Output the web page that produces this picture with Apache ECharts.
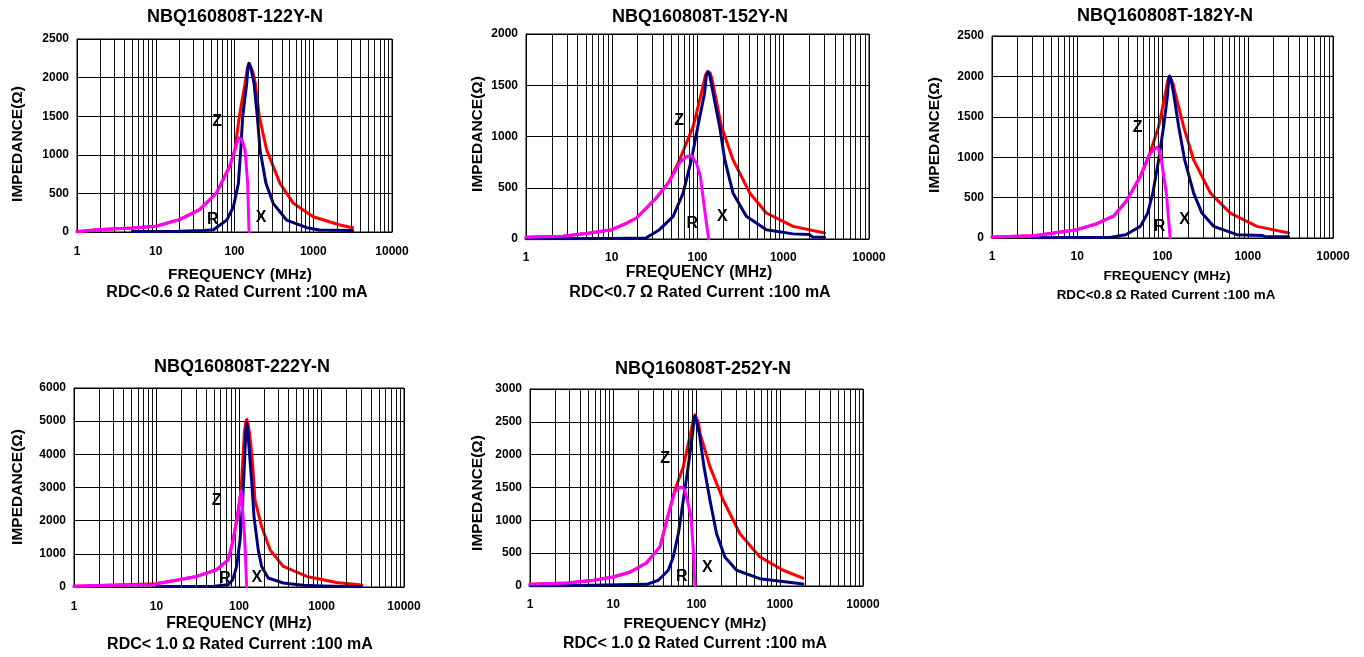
<!DOCTYPE html>
<html>
<head>
<meta charset="utf-8">
<script src="https://cdn.jsdelivr.net/npm/echarts@6/dist/echarts.min.js"></script>
<style>
html,body{margin:0;padding:0;background:#fff;}
#c{width:1364px;height:657px;}
</style>
</head>
<body>
<div id="c"></div>
<script>
// ---------------- DATA ----------------
const titles = ['NBQ160808T-122Y-N','NBQ160808T-152Y-N','NBQ160808T-182Y-N','NBQ160808T-222Y-N','NBQ160808T-252Y-N'];
const notes = ['RDC<0.6 Ω Rated Current :100 mA','RDC<0.7 Ω Rated Current :100 mA','RDC<0.8 Ω Rated Current :100 mA','RDC< 1.0 Ω Rated Current :100 mA','RDC< 1.0 Ω Rated Current :100 mA'];
const xName = 'FREQUENCY (MHz)';
const yName = 'IMPEDANCE(Ω)';
const yMaxes = [2500, 2000, 2500, 6000, 3000];
const ySteps = [500, 500, 500, 1000, 500];
const freqMin = 1, freqMax = 10000;

// [frequency MHz, impedance Ω]
const z122 = [[1,5],[1.8,30],[5,52],[10,75],[20,160],[36,290],[59,505],[87,855],[101,1062],[115,1493],[136,1925],[146,2120],[153,2185],[160,2170],[170,2080],[184,1925],[207,1493],[256,1062],[378,630],[559,371],[1000,198],[2180,91],[3160,56]];
const x122 = [[5,8],[20,10],[40,20],[54,30],[80,155],[97,328],[112,630],[120,1062],[127,1493],[143,1925],[148,2140],[153,2185],[160,2140],[177,1925],[195,1493],[211,1062],[251,630],[310,371],[458,155],[830,56],[1200,25],[3160,20]];
const r122 = [[1,0],[1.76,30],[5.1,52],[10,73],[20,160],[36,290],[59,504],[87,850],[101,1062],[112,1220],[117,1243],[124,1200],[136,1062],[147,630],[153,0]];

const z152 = [[1,16],[2.7,26],[5.5,58],[10,91],[15,156],[19.4,205],[33,400],[47,565],[62,774],[89,1099],[111,1424],[124,1600],[132,1635],[140,1620],[148,1560],[159,1424],[190,1099],[259,774],[407,449],[635,254],[1300,123],[3040,58]];
const x152 = [[1,3],[10,5],[25,10],[36,91],[52,221],[68,449],[85,774],[101,1099],[121,1424],[127,1600],[132,1630],[138,1610],[152,1424],[181,1099],[208,774],[259,449],[371,221],[635,91],[1300,50],[2000,45],[2200,20],[3040,18]];
const r152 = [[1,16],[2.7,26],[5.5,58],[10,91],[15,156],[19.4,205],[33,400],[47,560],[62,745],[75,805],[85,815],[97,740],[108,611],[121,286],[135,0]];

const z182 = [[1,12],[3.1,29],[5.3,62],[9.9,103],[17,177],[27,275],[38,465],[55,765],[71,1049],[90,1377],[108,1789],[116,1960],[121,2003],[127,1980],[134,1900],[141,1789],[177,1377],[232,966],[365,555],[624,308],[1280,144],[3020,62]];
const x182 = [[3,3],[25,10],[37,41],[55,144],[67,308],[77,555],[90,966],[103,1377],[115,1789],[118,1960],[121,2000],[126,1960],[135,1789],[155,1377],[182,966],[232,555],[290,308],[398,144],[748,41],[1500,30],[1600,15],[3020,15]];
const r182 = [[1,12],[3.1,29],[5.3,62],[9.9,103],[17,177],[27,275],[38,460],[55,760],[71,1040],[80,1100],[86,1123],[91,1090],[97,966],[111,555],[123,0]];

const z222 = [[1,20],[3.3,60],[10,100],[16,190],[30.7,319],[53.5,520],[74,821],[85,1422],[95.5,2122],[106,2925],[110,3625],[116,4629],[121,4980],[124,5050],[128,4950],[133,4700],[139,4300],[147,3625],[156,2624],[188,1822],[238,1121],[344,619],[662,319],[1520,138],[3070,60]];
const x222 = [[10,15],[50,20],[74,70],[84,220],[93.5,619],[103,1422],[111,2624],[116,3625],[121,4700],[124,4950],[128,4700],[133,4127],[143,3124],[152,2122],[171,1121],[188,619],[226,270],[344,120],[600,50],[1000,30],[3070,10]];
const r222 = [[1,20],[3.3,60],[9.5,70],[10.5,110],[16,190],[30.7,319],[53.5,520],[74,821],[85,1422],[95.5,2122],[106,2900],[110,2940],[117,1500],[124,0]];

const z252 = [[1,25],[2.8,46],[5.8,87],[10,137],[16,214],[25,350],[36.5,600],[43.9,1000],[55,1462],[69.5,1818],[85,2328],[91,2520],[96,2607],[101,2580],[106,2480],[110,2328],[145,1818],[209,1309],[331,800],[576,443],[1097,240],[1900,120]];
const x252 = [[1,3],[2.5,5],[25.3,25],[34.8,87],[45.8,240],[52.6,443],[60.6,800],[69.5,1309],[79.5,1818],[90,2328],[93,2530],[96,2590],[100,2560],[108,2328],[123,1818],[145,1309],[174,800],[219,443],[303,240],[576,112],[1445,50],[1900,30]];
const r252 = [[1,25],[2.8,46],[5.8,87],[10,137],[16,214],[25,350],[36.5,600],[43.9,1000],[55,1440],[62,1495],[67.5,1505],[72,1460],[78,1300],[85.8,1054],[91.6,545],[96,0]];

// curve name labels: [text, frequency, impedance]
const lbl122 = [['Z',60,1425],['R',53,155],['X',217,181]];
const lbl152 = [['Z',61,1157],['R',87,149],['X',195,215]];
const lbl182 = [['Z',51,1370],['R',92.5,136],['X',182,226]];
const lbl222 = [['Z',53.7,2603],['R',67.7,240],['X',164,270]];
const lbl252 = [['Z',41.9,1946],['R',66.4,137],['X',134.6,281]];

const zSets = [z122, z152, z182, z222, z252];
const xSets = [x122, x152, x182, x222, x252];
const rSets = [r122, r152, r182, r222, r252];
const lblSets = [lbl122, lbl152, lbl182, lbl222, lbl252];

// ---------------- LAYOUT ----------------
const FONT = '"Liberation Sans", Arial, sans-serif';
const layout = [
  {grid:{left:77,top:39,width:315,height:193}, title:[235,17], xn:[240,275], note:[237,293], yn:[18,144], xnSize:15.5, noteSize:16, xMargin:14},
  {grid:{left:526,top:34,width:343,height:205}, title:[700,17], xn:[699,273], note:[700,293], yn:[478,134], xnSize:15.8, noteSize:16, xMargin:13},
  {grid:{left:992,top:36,width:341,height:202}, title:[1165,16], xn:[1167,276], note:[1166,295], yn:[935,135], xnSize:13.7, noteSize:13.4, xMargin:13},
  {grid:{left:74,top:388,width:330,height:199}, title:[242,367], xn:[239,624], note:[240,645], yn:[18,487], xnSize:15.7, noteSize:16, xMargin:14},
  {grid:{left:530,top:389,width:333,height:197}, title:[703,369], xn:[695,624], note:[695,644], yn:[478,493], xnSize:15.4, noteSize:15.9, xMargin:13}
];

// minor log grid positions (2..9 per decade)
const minorLines = [];
for (let d = 1; d < freqMax; d *= 10) for (let k = 2; k <= 9; k++) minorLines.push(d * k);

const grids = [], xAxes = [], yAxes = [], series = [], graphics = [];
layout.forEach((L, i) => {
  grids.push(Object.assign({show:true, borderColor:'#000', borderWidth:1, backgroundColor:'#fff'}, L.grid));
  xAxes.push({
    type:'log', logBase:10, gridIndex:i, min:freqMin, max:freqMax,
    axisLine:{show:true, lineStyle:{color:'#000', width:1}},
    axisTick:{show:false},
    axisLabel:{color:'#000', fontWeight:'bold', fontSize:12, fontFamily:FONT, margin:L.xMargin, formatter:v=>String(Math.round(v))},
    splitLine:{show:true, lineStyle:{color:'#000', width:1}}
  });
  yAxes.push({
    type:'value', gridIndex:i, min:0, max:yMaxes[i], interval:ySteps[i],
    axisLine:{show:true, lineStyle:{color:'#000', width:1}},
    axisTick:{show:false},
    axisLabel:{color:'#000', fontWeight:'bold', fontSize:12, fontFamily:FONT, margin:8, formatter:v=>String(v)},
    splitLine:{show:true, lineStyle:{color:'#000', width:1}}
  });
  // minor vertical grid lines
  series.push({
    type:'line', xAxisIndex:i, yAxisIndex:i, data:[[freqMin,0]], showSymbol:false, silent:true, z:1,
    lineStyle:{opacity:0},
    markLine:{silent:true, symbol:['none','none'], animation:false, label:{show:false},
      lineStyle:{color:'#111', width:1, type:'solid'},
      data:minorLines.map(v=>({xAxis:v}))}
  });
  const mk = (data, color, z) => ({
    type:'line', xAxisIndex:i, yAxisIndex:i, data:data, showSymbol:false, symbol:'none',
    lineStyle:{color:color, width:3, join:'round', cap:'round'}, z:z, silent:true
  });
  series.push(mk(zSets[i], '#ff0000', 3));
  series.push(mk(xSets[i], '#000080', 4));
  series.push(mk(rSets[i], '#ff00ff', 5));
  // curve name labels
  series.push({
    type:'scatter', xAxisIndex:i, yAxisIndex:i, symbolSize:1, silent:true, z:6,
    itemStyle:{opacity:0},
    data:lblSets[i].map(a=>({name:a[0], value:[a[1], a[2]]})),
    label:{show:true, position:'inside', color:'#000', fontWeight:'bold', fontSize:16, fontFamily:FONT,
      textBorderWidth:0, textBorderColor:'transparent', opacity:1, formatter:p=>p.name},
    emphasis:{disabled:true}
  });

  const txt = (s, pos, size, rot) => ({
    type:'text', x:pos[0], y:pos[1], rotation:rot||0, silent:true,
    style:{text:s, fill:'#000', fontSize:size, fontWeight:'bold', fontFamily:FONT, align:'center', verticalAlign:'middle'}
  });
  graphics.push(txt(titles[i], L.title, 18));
  graphics.push(txt(xName, L.xn, L.xnSize));
  graphics.push(txt(notes[i], L.note, L.noteSize));
  graphics.push(txt(yName, L.yn, 15.5, Math.PI/2));
});

const chart = echarts.init(document.getElementById('c'));
chart.setOption({
  animation:false,
  backgroundColor:'#fff',
  grid:grids, xAxis:xAxes, yAxis:yAxes, series:series, graphic:graphics
});
</script>
</body>
</html>
